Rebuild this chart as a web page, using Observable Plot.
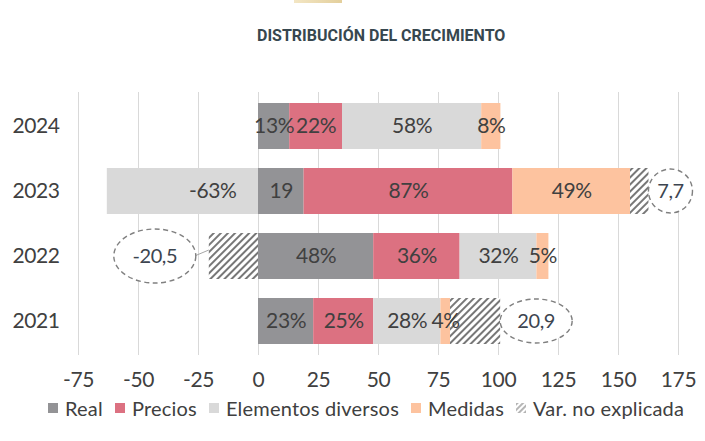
<!DOCTYPE html>
<html><head><meta charset="utf-8">
<script src="https://cdn.jsdelivr.net/npm/d3@7"></script>
<script src="https://cdn.jsdelivr.net/npm/@observablehq/plot@0.6"></script>
<style>
body{margin:0;background:#fff;width:705px;height:441px;overflow:hidden;position:relative;font-family:Lato,sans-serif;}
#deco{position:absolute;left:294px;top:0;width:48px;height:3px;background:linear-gradient(90deg,#f3e6c4,#e3cf9c);}
#title{position:absolute;left:257px;top:26px;font-family:Roboto,sans-serif;font-weight:700;font-size:16px;line-height:19px;color:#37474f;white-space:nowrap;}
#chart{position:absolute;left:0;top:0;}
#legend{position:absolute;left:0;top:396px;width:705px;display:flex;justify-content:flex-start;padding-left:48px;box-sizing:border-box;font-size:20px;line-height:24px;letter-spacing:0.2px;color:#404040;white-space:nowrap;}
#legend .item{display:flex;align-items:center;margin-right:12px;}
#legend .sw{width:10px;height:10px;margin-right:7px;display:inline-block;}
svg g[aria-label="x-axis tick label"]{font-size:21px;}
svg g[aria-label="y-axis tick label"]{font-size:21px;}
</style></head><body>
<div id="deco"></div>
<div id="title">DISTRIBUCIÓN DEL CRECIMIENTO</div>
<div id="chart"></div>
<div id="legend"></div>
<script>
const years = ["2024", "2023", "2022", "2021"];
const seriesNames = ["Real", "Precios", "Elementos diversos", "Medidas", "Var. no explicada"];
const real = [13, 19, 48, 23];
const precios = [22, 87, 36, 25];
const elementos = [58, -63, 32, 28];
const medidas = [8, 49, 5, 4];
const varNoExplicada = [0, 7.7, -20.5, 20.9];
const realLabels = ["13%", "19", "48%", "23%"];
const preciosLabels = ["22%", "87%", "36%", "25%"];
const elementosLabels = ["58%", "-63%", "32%", "28%"];
const medidasLabels = ["8%", "49%", "5%", "4%"];
const varLabels = ["", "7,7", "-20,5", "20,9"];
const xTicks = [-75, -50, -25, 0, 25, 50, 75, 100, 125, 150, 175];

const seriesColors = ["#939396", "#dc7181", "#d9d9d9", "#fdc39f", "url(#hatch)"];
const calloutStyle = {"2023": {rx: 22, ry: 22, gap: 0}, "2022": {rx: 41, ry: 27, gap: 13}, "2021": {rx: 36, ry: 22, gap: 0}};

const valueSets = [real, precios, elementos, medidas, varNoExplicada];
const labelSets = [realLabels, preciosLabels, elementosLabels, medidasLabels, varLabels];
const rows = [];
years.forEach((year, i) => {
  seriesNames.forEach((s, j) => {
    rows.push({year, series: s, value: valueSets[j][i], label: j < 4 ? labelSets[j][i] : ""});
  });
});

const ns = "http://www.w3.org/2000/svg";
function el(tag, attrs) {
  const e = document.createElementNS(ns, tag);
  for (const k in attrs) e.setAttribute(k, attrs[k]);
  return e;
}

function defsMark() {
  const defs = el("defs", {});
  const p = el("pattern", {id: "hatch", patternUnits: "userSpaceOnUse", width: 5, height: 5, patternTransform: "rotate(45)"});
  p.appendChild(el("rect", {width: 5, height: 5, fill: "#ffffff"}));
  p.appendChild(el("line", {x1: 1, y1: 0, x2: 1, y2: 5, stroke: "#555555", "stroke-width": 1.6}));
  defs.appendChild(p);
  return defs;
}

function calloutMark(index, scales) {
  const g = el("g", {});
  const x = scales.x, y = scales.y;
  const bw = typeof y.bandwidth === "function" ? y.bandwidth() : (y.bandwidth || 0);
  years.forEach((year, i) => {
    const v = varNoExplicada[i];
    const lab = varLabels[i];
    if (!lab) return;
    const st = calloutStyle[year];
    let posSum = 0, negSum = 0;
    valueSets.forEach(vs => { if (vs[i] > 0) posSum += vs[i]; else negSum += vs[i]; });
    const cy = y(year) + bw / 2;
    let cx, barEnd;
    if (v >= 0) {
      barEnd = x(posSum);
      cx = barEnd + st.gap + st.rx;
    } else {
      barEnd = x(negSum);
      cx = barEnd - st.gap - st.rx;
    }
    if (st.gap > 0) {
      const ex = v >= 0 ? cx - st.rx : cx + st.rx;
      const dir = v >= 0 ? 1 : -1;
      g.appendChild(el("polyline", {points: `${ex},${cy + 2} ${ex + dir * 6},${cy + 2} ${barEnd},${cy - 6}`, fill: "none", stroke: "#a6a6a6", "stroke-width": 1}));
    }
    g.appendChild(el("ellipse", {cx, cy, rx: st.rx, ry: st.ry, fill: "#ffffff", stroke: "#808080", "stroke-width": 1.4, "stroke-dasharray": "5,3.5"}));
    const t = el("text", {x: cx, y: cy, "text-anchor": "middle", dy: "0.35em", fill: "#3d4550", "font-size": 20, "font-family": "Lato, sans-serif"});
    t.textContent = lab;
    g.appendChild(t);
  });
  return g;
}

const chart = Plot.plot({
  width: 705,
  height: 441,
  marginTop: 92,
  marginBottom: 86,
  marginLeft: 78,
  marginRight: 27,
  style: {fontFamily: "Lato, sans-serif", color: "#404040", background: "transparent", letterSpacing: "-0.4px"},
  x: {domain: [-75, 175], ticks: xTicks, tickFormat: d => String(d), tickSize: 0, tickPadding: 17, label: null},
  y: {domain: years, paddingInner: 0.3, paddingOuter: 0.15, tickSize: 0, tickPadding: 19, label: null},
  color: {domain: seriesNames, range: seriesColors},
  marks: [
    defsMark,
    Plot.ruleX(xTicks, {stroke: "#d9d9d9", strokeWidth: 1}),
    Plot.barX(rows, Plot.stackX({x: "value", y: "year", fill: "series"})),
    Plot.text(rows, Plot.stackX({x: "value", y: "year", z: "series", text: d => d.value > 0 ? d.label : "", fill: "#404040", fontSize: 21})),
    Plot.text(rows, Plot.stackX1({x: "value", y: "year", z: "series", text: d => d.value < 0 ? d.label : "", fill: "#404040", fontSize: 21, textAnchor: "end", dx: -22})),
    calloutMark
  ]
});
document.getElementById("chart").appendChild(chart);

// legend
const legend = document.getElementById("legend");
seriesNames.forEach((s, j) => {
  const item = document.createElement("span");
  item.className = "item";
  let sw;
  if (j < 4) {
    sw = document.createElement("span");
    sw.className = "sw";
    sw.style.background = seriesColors[j];
  } else {
    sw = document.createElementNS(ns, "svg");
    sw.setAttribute("width", 10); sw.setAttribute("height", 10);
    sw.style.marginRight = "7px";
    const d = el("defs", {});
    const p = el("pattern", {id: "hatchLegend", patternUnits: "userSpaceOnUse", width: 4, height: 4, patternTransform: "rotate(45)"});
    p.appendChild(el("line", {x1: 1, y1: 0, x2: 1, y2: 4, stroke: "#777", "stroke-width": 1.1}));
    d.appendChild(p); sw.appendChild(d);
    sw.appendChild(el("rect", {width: 10, height: 10, fill: "url(#hatchLegend)"}));
  }
  const t = document.createElement("span");
  t.textContent = s;
  item.appendChild(sw); item.appendChild(t);
  legend.appendChild(item);
});
</script>
</body></html>
